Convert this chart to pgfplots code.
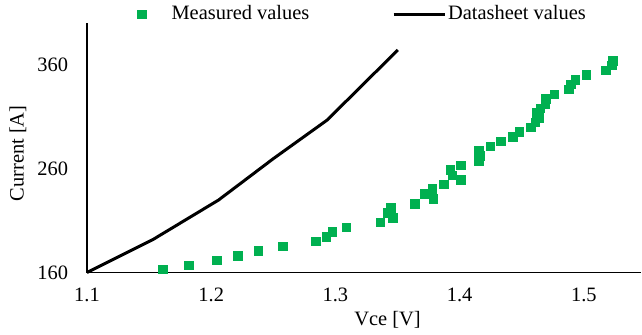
\documentclass[border=0pt]{standalone}
\usepackage{fontspec}
\setmainfont{Liberation Serif}
\usepackage{pgfplots}
\pgfplotsset{compat=1.18}
\definecolor{mgreen}{HTML}{00B050}
\pgfplotsset{
  markleg/.style={legend image code/.code={%
    \path (0bp,0bp) (51bp,0bp);
    \draw[##1, mark repeat=2, mark phase=2] plot coordinates {(0bp,0bp) (23bp,0bp) (51bp,0bp)};}},
  lineleg/.style={legend image code/.code={\draw[##1] (0bp,0bp) -- (51bp,0bp);}},
}
\begin{document}
\fontsize{20.5}{24}\selectfont
\begin{tikzpicture}
\useasboundingbox (-87bp,-62.5bp) rectangle (555bp,272.5bp);
\begin{axis}[
  at={(0,0)}, anchor=south west,
  scale only axis, width=554bp, height=249.5bp,
  xmin=1.1, xmax=1.546, ymin=160, ymax=400,
  axis x line*=bottom, axis y line*=left,
  axis line style={-, line width=1.5bp, black},
  xtick={1.1,1.2,1.3,1.4,1.5}, xticklabels={1.1,1.2,1.3,1.4,1.5},
  ytick={160,260,360},
  major tick length=0pt,
  /pgf/number format/assume math mode=true,
  ticklabel style={font=\fontsize{20.5}{24}\selectfont},
  xticklabel style={yshift=-8.5bp},
  yticklabel style={xshift=-12bp},
  xlabel={Vce [V]}, ylabel={Current [A]},
  label style={font=\fontsize{20.5}{24}\selectfont},
  xlabel style={at={(axis description cs:0.5424,0)}, anchor=center, yshift=-47.5bp},
  ylabel style={at={(axis description cs:-0.1245,0.477)}, anchor=center},
  clip=false,
  legend columns=2,
  legend style={draw=none, fill=none, inner sep=0pt,
    at={(axis description cs:0.05596,1.036)}, anchor=west,
    font=\fontsize{20.5}{24}\selectfont,
    /tikz/every even column/.append style={column sep=80.7bp}},
]
\addplot[only marks, mark=square*, mark size=4.3bp, color=mgreen,
  mark options={draw=mgreen, fill=mgreen, line width=0.3bp}, markleg]
coordinates {
(1.1607,163.1) (1.1817,167.2) (1.2046,172.0) (1.2212,176.2) (1.2377,181.0)
(1.2575,185.5) (1.2839,190.0) (1.2925,194.4) (1.2973,199.2) (1.3086,203.8)
(1.3359,208.6) (1.3417,217.5) (1.3444,222.3) (1.3462,212.7) (1.3640,226.5)
(1.3720,235.8) (1.3780,240.6) (1.3788,231.3) (1.3873,244.8) (1.3922,259.2)
(1.3941,253.8) (1.4008,263.1) (1.4008,249.6) (1.4151,277.1) (1.4161,272.3)
(1.4151,267.5) (1.4244,281.6) (1.4328,286.2) (1.4425,290.6) (1.4478,295.4)
(1.4573,299.9) (1.4607,304.7) (1.4640,309.2) (1.4619,313.7) (1.4648,317.9)
(1.4688,322.7) (1.4694,327.5) (1.4760,331.6) (1.4877,336.2) (1.4895,341.0)
(1.4930,345.4) (1.5019,350.2) (1.5177,354.7) (1.5226,359.5) (1.5234,363.7)
};
\addlegendentry{Measured values}
\addplot[black, line width=3bp, no marks, lineleg]
coordinates {
(1.1,160) (1.1535,192) (1.2059,229.7) (1.25,269.5) (1.2933,306.6) (1.3502,374)
};
\addlegendentry{Datasheet values}
\end{axis}
\end{tikzpicture}
\end{document}
